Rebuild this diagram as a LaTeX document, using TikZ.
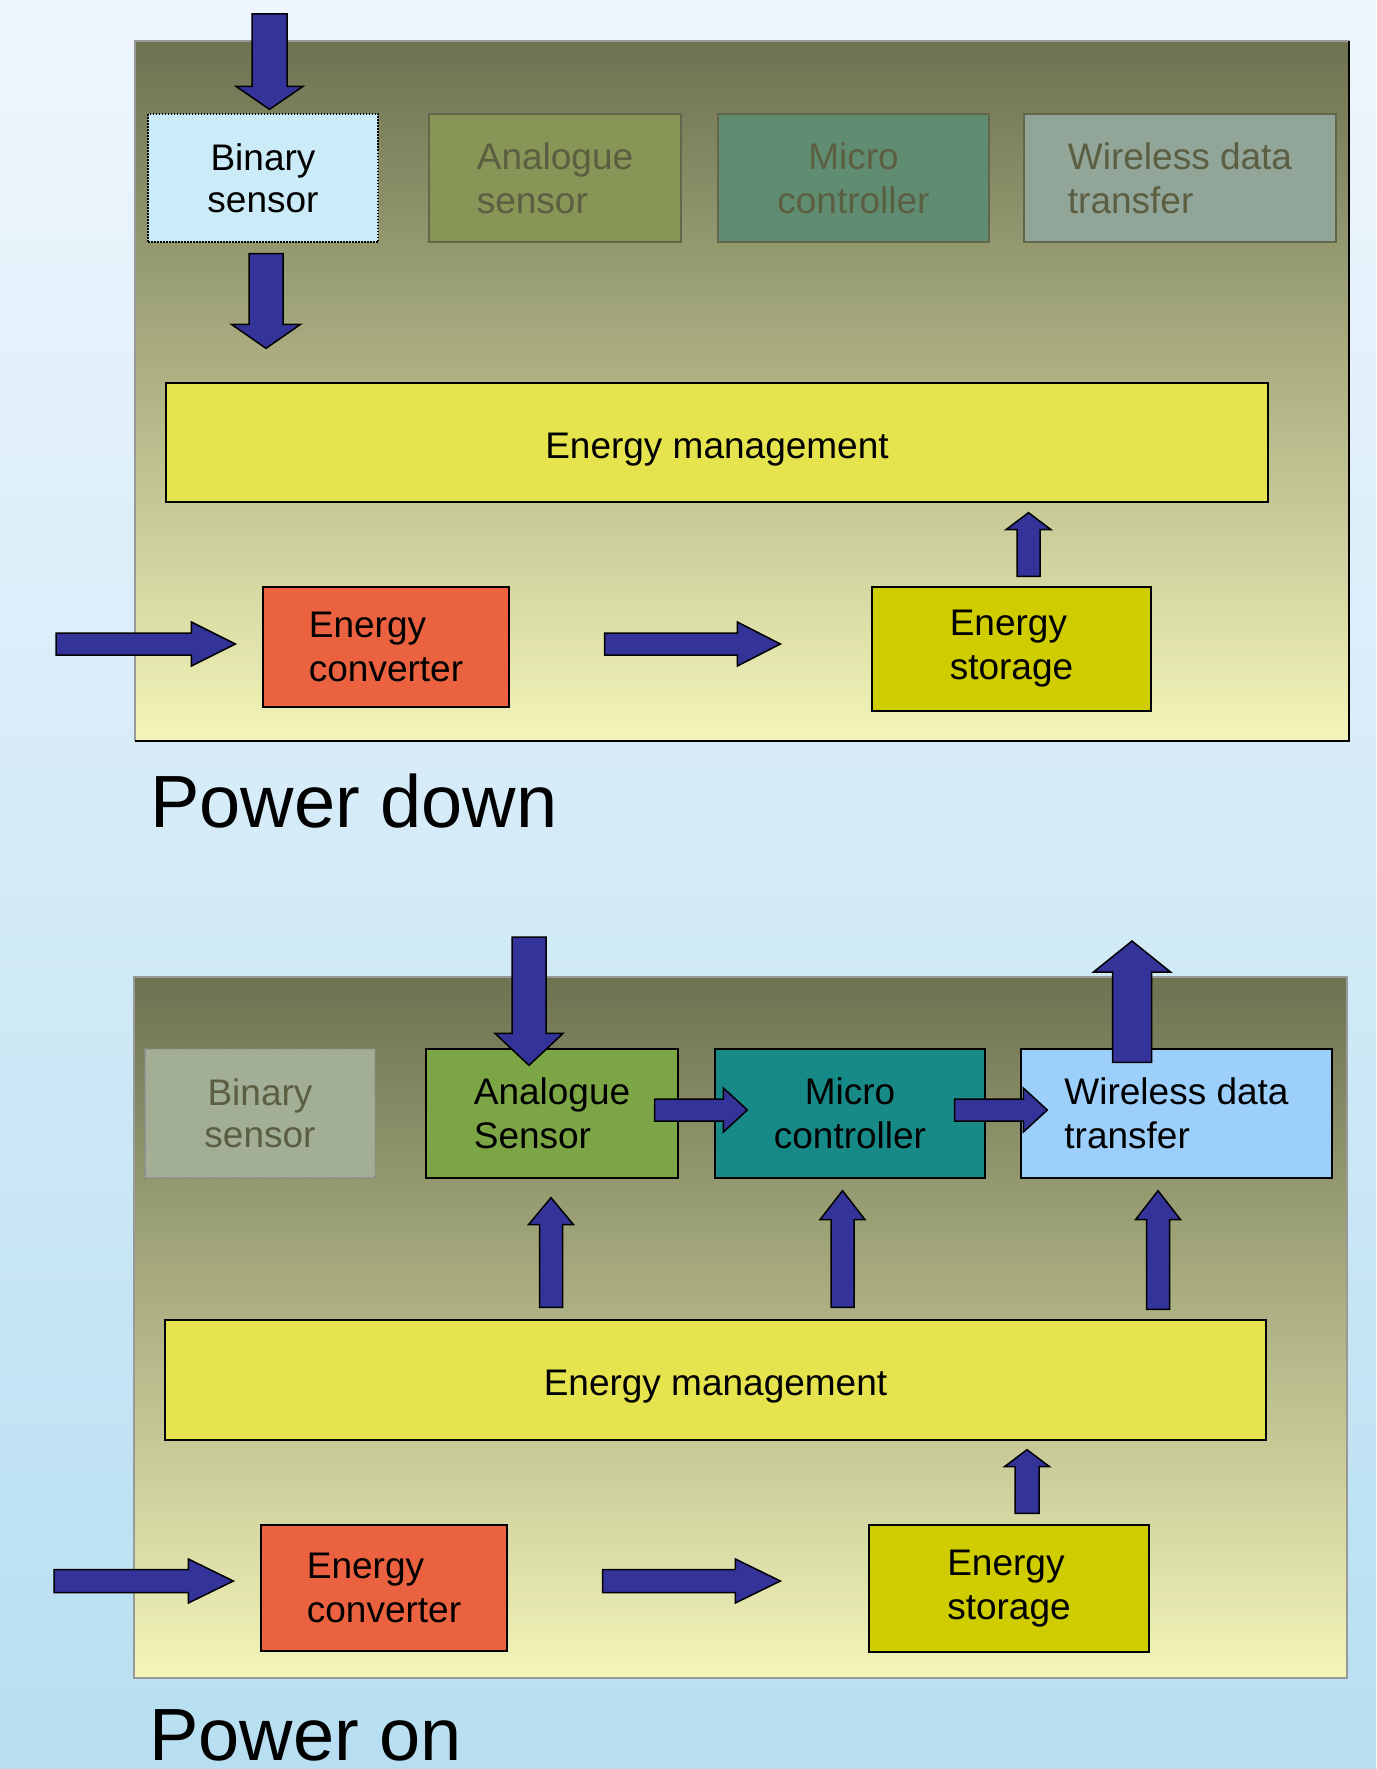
\documentclass[tikz,border=0pt]{standalone}
\usepackage{fontspec}
\setmainfont{Liberation Sans}
\usepackage{xcolor}
\usetikzlibrary{positioning, calc}
\definecolor{bgtop}{HTML}{EFF6FD}
\definecolor{bgbot}{HTML}{B7DFF1}
\definecolor{paneltop}{HTML}{6D7251}
\definecolor{panelbot}{HTML}{F3F5B9}
\definecolor{navyarrow}{HTML}{333399}
\definecolor{binaryblue}{HTML}{CCEBF8}
\definecolor{mgmtyellow}{HTML}{E6E44E}
\definecolor{convred}{HTML}{EB6240}
\definecolor{storeyellow}{HTML}{CFCC00}
\definecolor{analoggreen}{HTML}{7CA546}
\definecolor{microteal}{HTML}{178A87}
\definecolor{wirelessblue}{HTML}{9DCFFC}
\definecolor{fadetext}{HTML}{5C5E42}
\definecolor{fadeline}{HTML}{62664A}
\definecolor{fadeanalog}{HTML}{879556}
\definecolor{fademicro}{HTML}{608D72}
\definecolor{fadewireless}{HTML}{91A598}
\definecolor{fadebinary}{HTML}{A2AE96}

\tikzset{
  block/.style={draw=black, line width=1.3pt, inner sep=0pt,
    font=\fontsize{37}{44}\selectfont, execute at begin node={\rule{0pt}{39pt}}},
  faded/.style={block, draw=fadeline, text=fadetext},
  fatline/.style={draw=black, fill=navyarrow, line width=1.5pt, line join=miter},
  title/.style={anchor=base west, inner sep=0pt, font=\fontsize{74}{80}\selectfont}
}

% block arrow: from, to, half shaft, half head, head length
\newcommand\fatarrow[5]{%
  \coordinate (fa-s) at (#1);
  \coordinate (fa-t) at (#2);
  \coordinate (fa-h) at ($(fa-t)!#5!(fa-s)$);
  \draw[fatline] ($(fa-s)!#3!90:(fa-t)$) -- ($(fa-h)!#3!-90:(fa-s)$)
    -- ($(fa-h)!#4!-90:(fa-s)$) -- (fa-t) -- ($(fa-h)!#4!90:(fa-s)$)
    -- ($(fa-h)!#3!90:(fa-s)$) -- ($(fa-s)!#3!-90:(fa-t)$) -- cycle;}

\begin{document}
\begin{tikzpicture}[x=1pt, y=-1pt]
  \useasboundingbox (0,0) rectangle (1376,1769);
  \shade[top color=bgtop, bottom color=bgbot] (0,0) rectangle (1376,1769);

  % power down
  \shade[top color=paneltop, bottom color=panelbot] (135,41) rectangle (1349,741);
  \draw[black!40, line width=1.3pt] (135,741) -- (135,41) -- (1349,41);
  \draw[black, line width=1.5pt] (1349,41) -- (1349,741) -- (135,741);
  \node[block, fill=binaryblue, dash pattern=on 1.5pt off 1.5pt, minimum width=230pt,
        minimum height=128pt, align=center, font=\fontsize{37}{42}\selectfont]
        (bs1) at (263,178) {Binary\\sensor};
  \node[faded, fill=fadeanalog, minimum width=252pt, minimum height=128pt,
        align=left] (as1) at (555,178) {Analogue\\sensor};
  \node[faded, fill=fademicro, minimum width=271pt, minimum height=128pt,
        align=center] (mc1) at (853.5,178) {Micro\\controller};
  \node[faded, fill=fadewireless, minimum width=312pt, minimum height=128pt,
        align=left] (wd1) at (1180,178) {Wireless data\\transfer};
  \node[block, fill=mgmtyellow, minimum width=1102pt, minimum height=119pt]
        (em1) at (717,442.5) {Energy management};
  \node[block, fill=convred, minimum width=246pt, minimum height=120pt,
        align=left] (ec1) at (386,647) {Energy\\converter};
  \node[block, fill=storeyellow, minimum width=279pt, minimum height=124pt,
        align=left] (es1) at (1011.5,649) {Energy\\storage};
  \node[title] (pd) at (150,827) {Power down};

  \coordinate (in1) at (269.5,14);
  \coordinate (src1) at (56,644);
  \fatarrow{in1}{$(bs1.north)+(6.5,-4)$}{17.5pt}{33.5pt}{23pt}
  \fatarrow{$(bs1.south)+(3,11)$}{$(em1.north -| bs1.south)+(3,-34)$}{17pt}{34.5pt}{24pt}
  \fatarrow{$(es1.north)+(17,-10)$}{$(es1.north |- em1.south)+(17,10)$}{11.5pt}{22.5pt}{17pt}
  \fatarrow{src1}{$(ec1.west)+(-27,-3)$}{11pt}{22pt}{44pt}
  \fatarrow{$(ec1.east)+(95,-3)$}{$(es1.west)+(-91,-5)$}{11pt}{22pt}{43pt}

  % power on
  \shade[top color=paneltop, bottom color=panelbot] (134,977) rectangle (1347,1678);
  \draw[black!40, line width=1.3pt] (134,977) rectangle (1347,1678);
  \node[faded, fill=fadebinary, draw=black!45, dash pattern=on 1.5pt off 1.5pt,
        minimum width=230pt, minimum height=129pt, align=center,
        font=\fontsize{37}{42}\selectfont] (bs2) at (260,1113.5) {Binary\\sensor};
  \node[block, fill=analoggreen, minimum width=252pt, minimum height=129pt,
        align=left] (as2) at (552,1113.5) {Analogue\\Sensor};
  \node[block, fill=microteal, minimum width=270pt, minimum height=129pt,
        align=center] (mc2) at (850,1113.5) {Micro\\controller};
  \node[block, fill=wirelessblue, minimum width=311pt, minimum height=129pt,
        align=left] (wd2) at (1176.5,1113.5) {Wireless data\\transfer};
  \node[block, fill=mgmtyellow, minimum width=1101pt, minimum height=120pt]
        (em2) at (715.5,1380) {Energy management};
  \node[block, fill=convred, minimum width=246pt, minimum height=126pt,
        align=left] (ec2) at (384,1588) {Energy\\converter};
  \node[block, fill=storeyellow, minimum width=280pt, minimum height=127pt,
        align=left] (es2) at (1009,1588.5) {Energy\\storage};
  \node[title] (po) at (149,1760) {Power on};

  \coordinate (in2) at (529,937);
  \coordinate (out2) at (1132,941);
  \coordinate (src2) at (54,1581);
  \fatarrow{in2}{$(as2.north)+(-23,17)$}{17pt}{34pt}{32pt}
  \fatarrow{$(wd2.north)+(-44.5,14)$}{out2}{19.5pt}{38.5pt}{31pt}
  \fatarrow{$(as2.east)+(-24,-3.5)$}{$(mc2.west)+(33,-3.5)$}{11pt}{22pt}{24pt}
  \fatarrow{$(mc2.east)+(-31,-3.5)$}{$(wd2.west)+(27,-3.5)$}{11pt}{22pt}{24pt}
  \fatarrow{$(em2.north -| as2.south)+(-1,-12)$}{$(as2.south)+(-1,19)$}{11.5pt}{22.5pt}{27pt}
  \fatarrow{$(em2.north -| mc2.south)+(-7.5,-12)$}{$(mc2.south)+(-7.5,12)$}{11.5pt}{22.5pt}{29pt}
  \fatarrow{$(em2.north -| wd2.south)+(-18.5,-10)$}{$(wd2.south)+(-18.5,12)$}{11.5pt}{22.5pt}{29pt}
  \fatarrow{$(es2.north)+(18,-11)$}{$(es2.north |- em2.south)+(18,9)$}{12pt}{22.5pt}{17pt}
  \fatarrow{src2}{$(ec2.west)+(-27,-7)$}{11.5pt}{22pt}{45pt}
  \fatarrow{$(ec2.east)+(95,-7)$}{$(es2.west)+(-88,-7.5)$}{11.5pt}{22pt}{45pt}
\end{tikzpicture}
\end{document}
